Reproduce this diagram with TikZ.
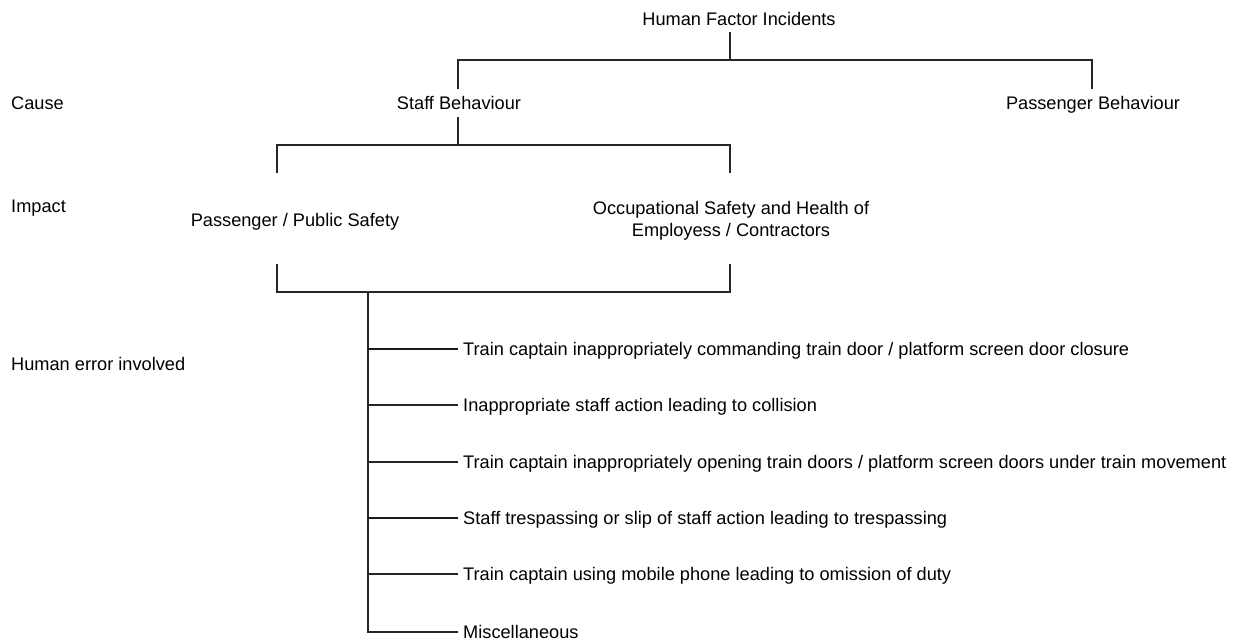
\documentclass[tikz,border=0pt]{standalone}
\usepackage{fontspec}
\setmainfont{Liberation Sans}
\begin{document}
\begin{tikzpicture}[x=1pt,y=-1pt,
  lbl/.style={inner sep=0pt, anchor=base, font=\fontsize{18.2}{22}\selectfont, text=black},
  wlbl/.style={lbl, anchor=base west},
  ln/.style={line width=1.6pt, black!85},
  thinbr/.style={line width=1.1pt, black!85},
  thickbr/.style={line width=1.9pt, black!90}]
\useasboundingbox (0,0) rectangle (1243,642);
% level labels
\node[wlbl] (cause) at (11,109.5) {Cause};
\node[wlbl] (impact) at (11,212.5) {Impact};
\node[wlbl] (herr) at (11,370.5) {Human error involved};
% tree nodes
\node[lbl] (hfi) at (739,25.5) {Human Factor Incidents};
\node[lbl] (sb) at (459,109.5) {Staff Behaviour};
\node[lbl] (pb) at (1093,109.5) {Passenger Behaviour};
\node[lbl] (pps) at (295,226.5) {Passenger / Public Safety};
\node[lbl, align=center] (osh) at (731,236.5) {Occupational Safety and Health of\\Employess / Contractors};
% junction coordinates
\coordinate (hfiS) at (730,32);
\coordinate (sbN) at (458,89);
\coordinate (pbN) at (1092,89);
\coordinate (sbS) at (458,117);
\coordinate (ppsN) at (277,173);
\coordinate (oshN) at (730,173);
\coordinate (ppsS) at (277,264);
\coordinate (oshS) at (730,264);
\coordinate (stemTop) at (368,292);
% connectors
\draw[ln] (hfiS) -- (730,60);
\draw[ln] (sbN) |- (pbN |- 0,60) -- (pbN);
\draw[ln] (sbS) -- (458,145);
\draw[ln] (ppsN) |- (oshN |- 0,145) -- (oshN);
\draw[ln] (ppsS) |- (oshS |- 0,292) -- (oshS);
% error items
\node[wlbl] (e1) at (463,355.5) {Train captain inappropriately commanding train door / platform screen door closure};
\node[wlbl] (e2) at (463,411.5) {Inappropriate staff action leading to collision};
\node[wlbl] (e3) at (463,468.5) {Train captain inappropriately opening train doors / platform screen doors under train movement};
\node[wlbl] (e4) at (463,524.5) {Staff trespassing or slip of staff action leading to trespassing};
\node[wlbl] (e5) at (463,580.5) {Train captain using mobile phone leading to omission of duty};
\node[wlbl] (e6) at (463,638.5) {Miscellaneous};
\draw[ln] (stemTop) -- (368,632) -- ([xshift=-5pt,yshift=6.5pt]e6.base west);
\draw[thickbr] (368,349) -- ([xshift=-5pt,yshift=6.5pt]e1.base west);
\draw[thinbr] (368,405) -- ([xshift=-5pt,yshift=6.5pt]e2.base west);
\draw[thinbr] (368,462) -- ([xshift=-5pt,yshift=6.5pt]e3.base west);
\draw[thickbr] (368,518) -- ([xshift=-5pt,yshift=6.5pt]e4.base west);
\draw[thinbr] (368,574) -- ([xshift=-5pt,yshift=6.5pt]e5.base west);
\end{tikzpicture}
\end{document}
